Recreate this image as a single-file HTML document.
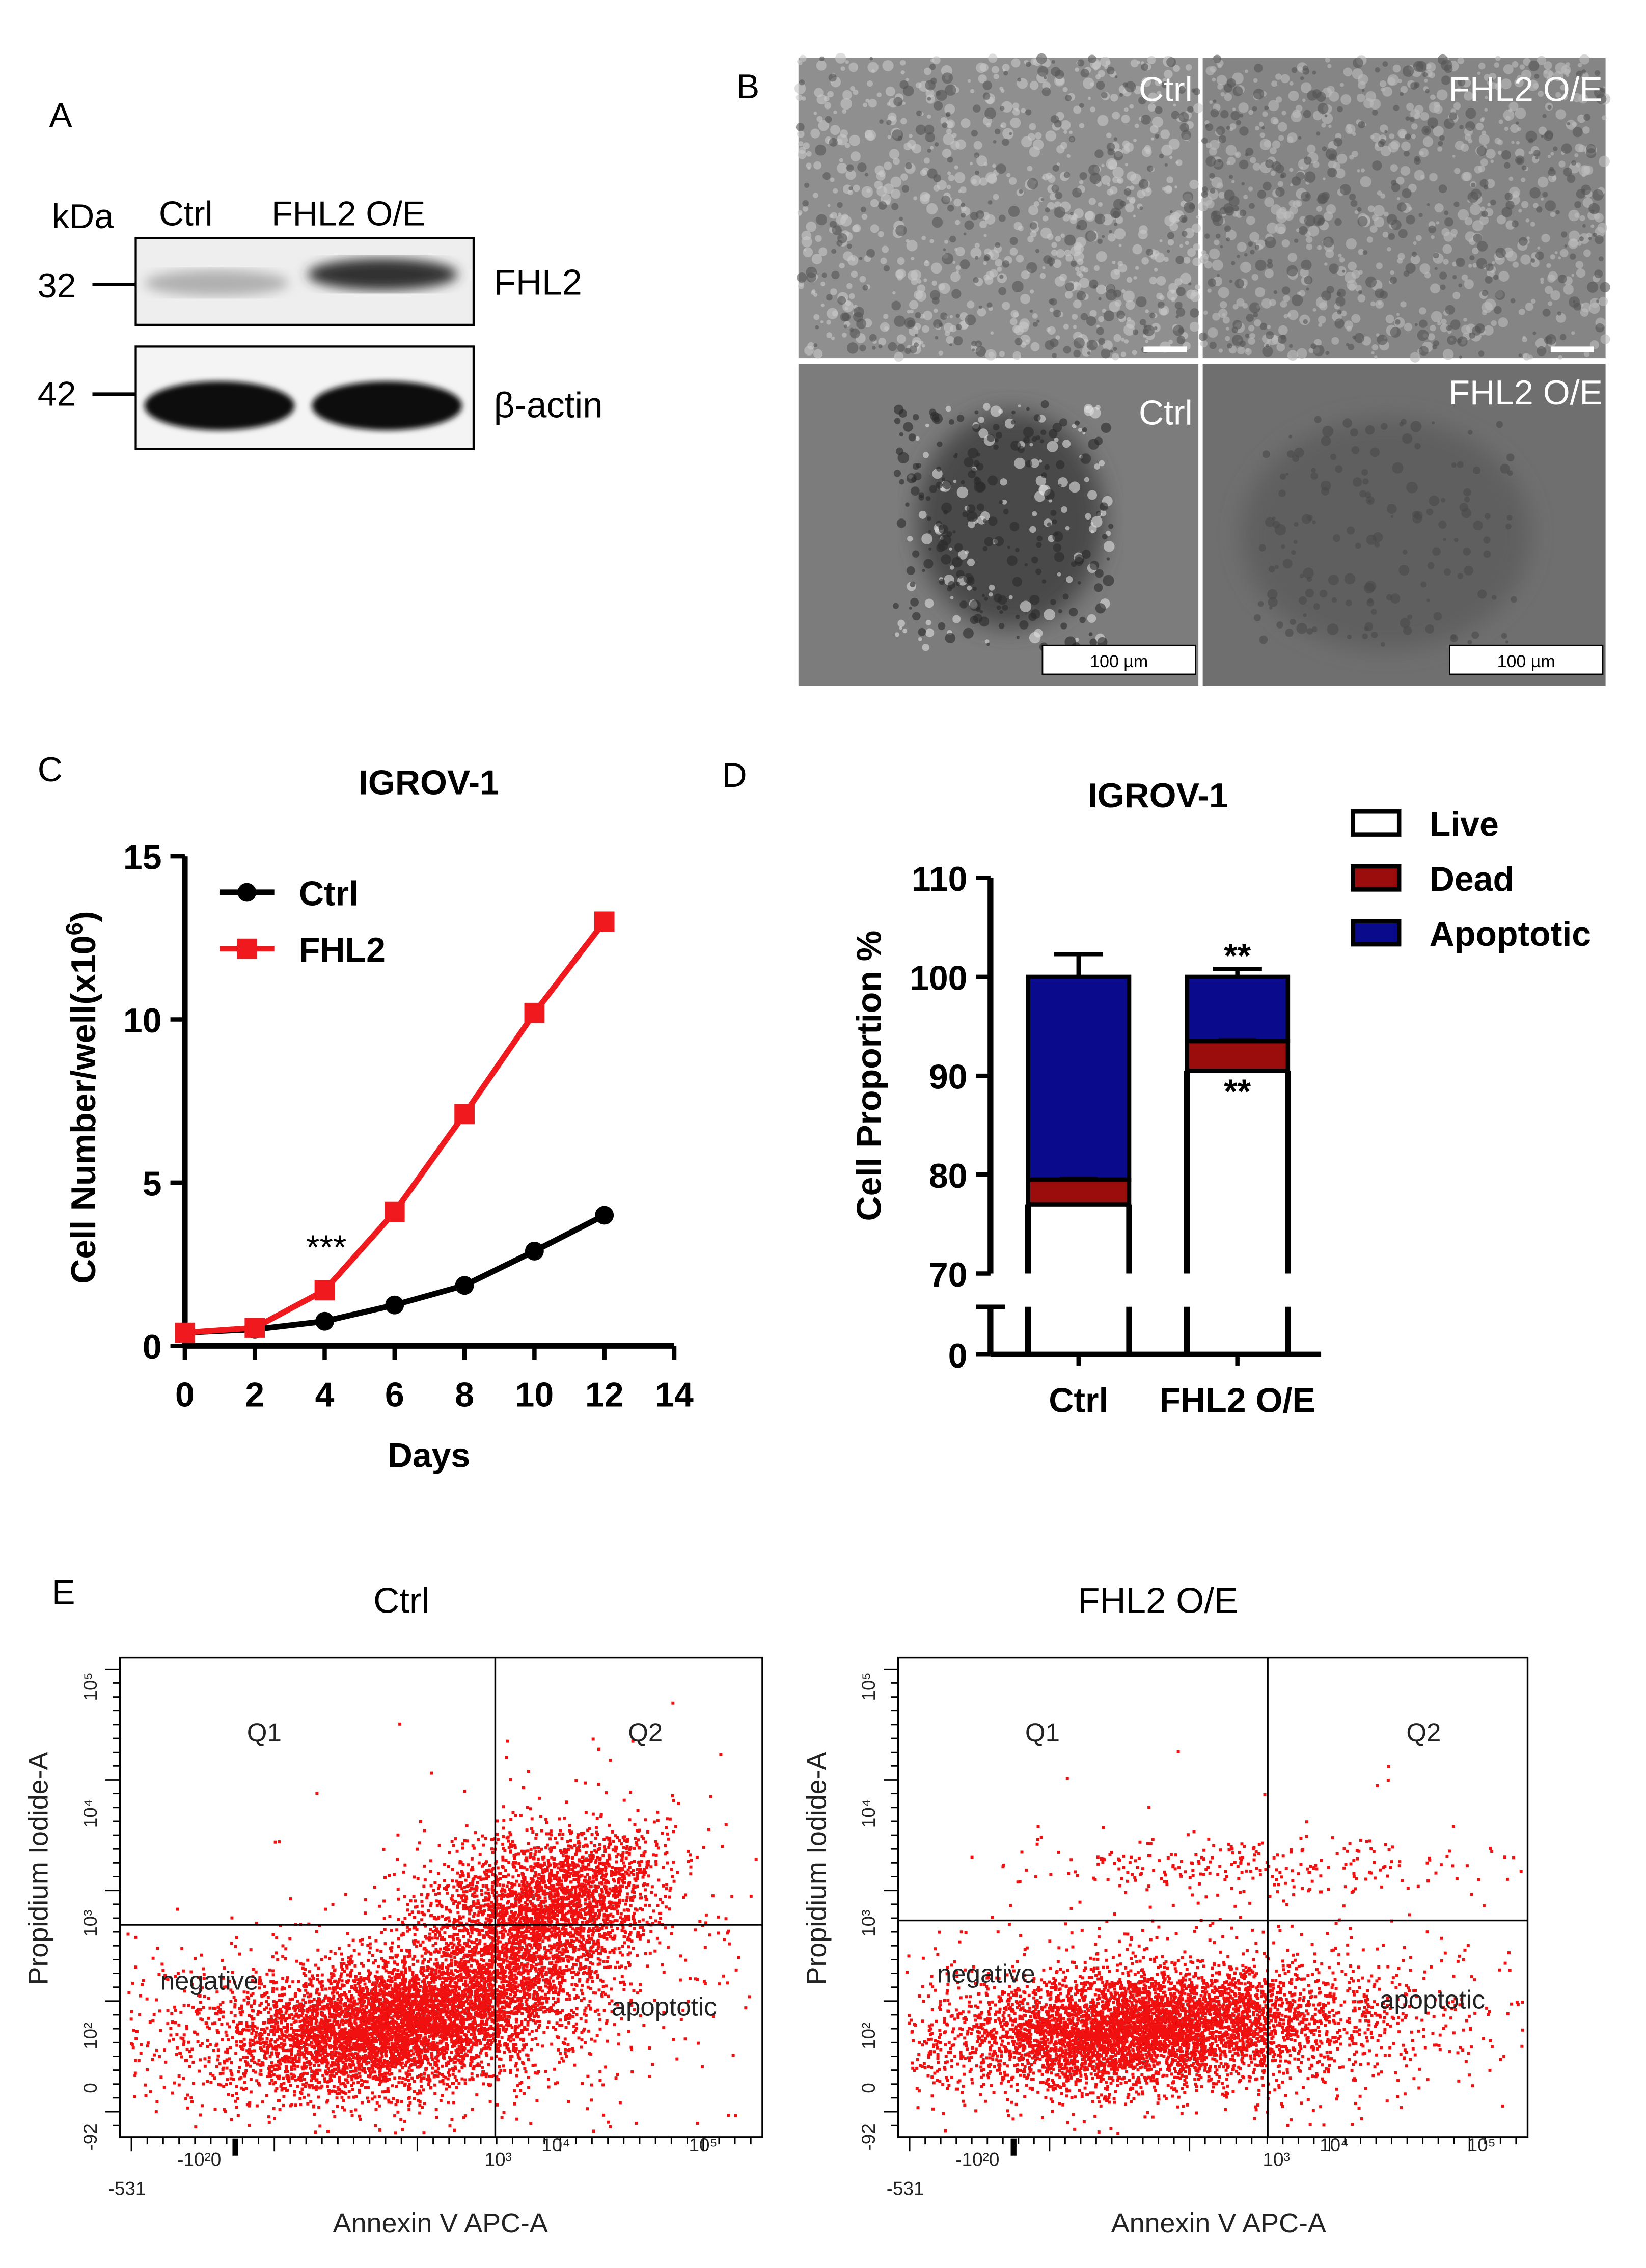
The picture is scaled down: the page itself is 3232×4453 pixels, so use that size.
<!DOCTYPE html>
<html><head><meta charset="utf-8"><style>
html,body{margin:0;padding:0;background:#fff}
svg{display:block;font-family:"Liberation Sans",Arial,sans-serif}
</style></head><body>
<svg id="fig" width="3232" height="4453" viewBox="0 0 1140 1570.7" xmlns="http://www.w3.org/2000/svg">
<rect width="1140" height="1570.7" fill="#fff"/>
<!-- Panel A -->
<g>
<text x="34" y="88" font-size="24">A</text>
<text x="36" y="158" font-size="24">kDa</text>
<text x="110" y="156" font-size="24">Ctrl</text>
<text x="188" y="156" font-size="24">FHL2 O/E</text>
<text x="26" y="206" font-size="24">32</text>
<line x1="64" y1="197" x2="94" y2="197" stroke="#000" stroke-width="2.5"/>
<text x="26" y="281" font-size="24">42</text>
<line x1="64" y1="273" x2="94" y2="273" stroke="#000" stroke-width="2.5"/>
<defs>
<filter id="blur3"><feGaussianBlur stdDeviation="4"/></filter>
<filter id="blur2"><feGaussianBlur stdDeviation="2"/></filter>
<filter id="blur8"><feGaussianBlur stdDeviation="8"/></filter>
</defs>
<rect x="94" y="165" width="234" height="60" fill="#eee" stroke="#000" stroke-width="1.5"/>
<ellipse cx="150" cy="196" rx="50" ry="9" fill="#b0b0b0" filter="url(#blur3)"/>
<ellipse cx="265" cy="190" rx="52" ry="11" fill="#333" filter="url(#blur3)"/>
<rect x="94" y="240" width="234" height="71" fill="#f4f4f4" stroke="#000" stroke-width="1.5"/>
<ellipse cx="152" cy="281" rx="52" ry="17" fill="#111" filter="url(#blur2)"/>
<ellipse cx="268" cy="281" rx="52" ry="17" fill="#111" filter="url(#blur2)"/>
<text x="342" y="204" font-size="25">FHL2</text>
<text x="342" y="289" font-size="25">β-actin</text>
</g>
<!-- Panel B -->
<g id="panelB">
<text x="510" y="68" font-size="24">B</text>
<rect x="553" y="40" width="277" height="208" fill="#8f8f8f"/>
<rect x="833" y="40" width="279" height="208" fill="#858585"/>
<rect x="553" y="252" width="277" height="223" fill="#7c7c7c"/>
<rect x="833" y="252" width="279" height="223" fill="#6f6f6f"/>
<ellipse cx="700" cy="360" rx="65" ry="75" fill="#4a4a4a" filter="url(#blur8)"/>
<ellipse cx="960" cy="370" rx="100" ry="80" fill="#5e5e5e" filter="url(#blur8)"/>
<g id="bTex"></g>
<text x="826" y="70" font-size="24" fill="#fff" text-anchor="end">Ctrl</text>
<text x="1110" y="70" font-size="24" fill="#fff" text-anchor="end">FHL2 O/E</text>
<text x="826" y="294" font-size="24" fill="#fff" text-anchor="end">Ctrl</text>
<text x="1110" y="280" font-size="24" fill="#fff" text-anchor="end">FHL2 O/E</text>
<rect x="792" y="240" width="30" height="4" fill="#fff"/>
<rect x="1074" y="240" width="30" height="4" fill="#fff"/>
<rect x="722" y="447" width="106" height="20" fill="#fff" stroke="#000"/>
<text x="775" y="462" font-size="12" text-anchor="middle">100 µm</text>
<rect x="1004" y="447" width="106" height="20" fill="#fff" stroke="#000"/>
<text x="1057" y="462" font-size="12" text-anchor="middle">100 µm</text>
</g>
<!-- Panel C -->
<g id="panelC">
<text x="26" y="541" font-size="24">C</text>
<text x="297" y="550" font-size="24" font-weight="bold" text-anchor="middle">IGROV-1</text>
<text x="297" y="1016" font-size="24" font-weight="bold" text-anchor="middle">Days</text>
<text transform="translate(66,760) rotate(-90)" font-size="24" font-weight="bold" text-anchor="middle">Cell Number/well(x10<tspan dy="-9" font-size="16">6</tspan><tspan dy="9">)</tspan></text>
</g>
<!-- Panel D -->
<g id="panelD">
<text x="500" y="545" font-size="24">D</text>
<text x="802" y="559" font-size="24" font-weight="bold" text-anchor="middle">IGROV-1</text>
<text transform="translate(610,745) rotate(-90)" font-size="24" font-weight="bold" text-anchor="middle">Cell Proportion %</text>
</g>
<!-- Panel E -->
<g id="panelE">
<text x="36" y="1111" font-size="24">E</text>
<text x="278" y="1117" font-size="25" text-anchor="middle">Ctrl</text>
<text x="802" y="1117" font-size="25" text-anchor="middle">FHL2 O/E</text>
</g>
</svg>
<script>
const NS='http://www.w3.org/2000/svg';
function mk(parent,tag,attrs,txt){const e=document.createElementNS(NS,tag);for(const k in attrs)e.setAttribute(k,attrs[k]);if(txt!==undefined)e.textContent=txt;parent.appendChild(e);return e;}
let seed=12345;function rnd(){seed=(seed*1103515245+12345)%2147483648;return seed/2147483648;}
function gauss(){let u=rnd()||1e-6,v=rnd();return Math.sqrt(-2*Math.log(u))*Math.cos(2*Math.PI*v);}

// ---- Panel B texture
const bTex=document.getElementById('bTex');
const texRegions=[[553,40,277,208,'#c8c8c8',700],[553,40,277,208,'#555',300],[833,40,279,208,'#bdbdbd',650],[833,40,279,208,'#555',350],[620,280,150,170,'#e0e0e0',120],[620,280,150,170,'#2a2a2a',200],[870,290,180,160,'#4a4a4a',150]];
texRegions.forEach(r=>{for(let i=0;i<r[5];i++){const x=r[0]+rnd()*r[2],y=r[1]+rnd()*r[3];mk(bTex,'circle',{cx:x,cy:y,r:1+rnd()*3,fill:r[4],opacity:0.6});}});

// ---- Panel C
const daysC=[0,2,4,6,8,10,12];
const ctrlC=[0.4,0.5,0.75,1.25,1.85,2.9,4.0];
const fhl2C=[0.4,0.55,1.7,4.1,7.1,10.2,13.0];
const xTicksC=[0,2,4,6,8,10,12,14];
const yTicksC=[0,5,10,15];
const gC=document.getElementById('panelC');
const xC=d=>128+d*(467-128)/14, yC=v=>932-v*(932-593)/15;
mk(gC,'line',{x1:128,y1:593,x2:128,y2:932,stroke:'#000','stroke-width':4});
mk(gC,'line',{x1:128,y1:932,x2:467,y2:932,stroke:'#000','stroke-width':4});
xTicksC.forEach(t=>{mk(gC,'line',{x1:xC(t),y1:932,x2:xC(t),y2:942,stroke:'#000','stroke-width':3});
 const l=mk(gC,'text',{x:xC(t),y:974,'font-size':24,'font-weight':'bold','text-anchor':'middle'},t);
 
 });
yTicksC.forEach(t=>{mk(gC,'line',{x1:118,y1:yC(t),x2:128,y2:yC(t),stroke:'#000','stroke-width':3});
 const l=mk(gC,'text',{x:112,y:yC(t)+9,'font-size':24,'font-weight':'bold','text-anchor':'end'},t);
 
 });
function series(vals,color,shape,name){
 const p=mk(gC,'polyline',{points:daysC.map((d,i)=>xC(d)+','+yC(vals[i])).join(' '),fill:'none',stroke:color,'stroke-width':4});
 
 
 daysC.forEach((d,i)=>{let m;if(shape==='c')m=mk(gC,'circle',{cx:xC(d),cy:yC(vals[i]),r:6.5,fill:color});
  else m=mk(gC,'rect',{x:xC(d)-7,y:yC(vals[i])-7,width:14,height:14,fill:color});
  
  });
}
series(ctrlC,'#000','c','ctrl');
series(fhl2C,'#f0191e','s','fhl2');
mk(gC,'text',{x:226,y:872,'font-size':24,'text-anchor':'middle'},'***');
mk(gC,'line',{x1:152,y1:618,x2:190,y2:618,stroke:'#000','stroke-width':4});
mk(gC,'circle',{cx:171,cy:618,r:6.5,fill:'#000'});
let lg=mk(gC,'text',{x:207,y:627,'font-size':24,'font-weight':'bold'},'Ctrl');


mk(gC,'line',{x1:152,y1:657,x2:190,y2:657,stroke:'#f0191e','stroke-width':4});
mk(gC,'rect',{x:164,y:650,width:14,height:14,fill:'#f0191e'});
lg=mk(gC,'text',{x:207,y:666,'font-size':24,'font-weight':'bold'},'FHL2');



// ---- Panel D
const groupsD=['Ctrl','FHL2 O/E'];
const liveD=[77.0,90.5];
const deadD=[2.5,3.0];
const apopD=[20.5,6.5];
const errTopD=[2.3,0.8];
const yTicksD=[70,80,90,100,110];
const gD=document.getElementById('panelD');
const yD=v=>882-(v-70)*(882-608)/40;
const bx=[712,822],bw=70;
mk(gD,'line',{x1:686,y1:608,x2:686,y2:882,stroke:'#000','stroke-width':4});
mk(gD,'line',{x1:686,y1:905,x2:686,y2:938,stroke:'#000','stroke-width':4});
mk(gD,'line',{x1:686,y1:938,x2:915,y2:938,stroke:'#000','stroke-width':4});
mk(gD,'line',{x1:676,y1:905,x2:696,y2:905,stroke:'#000','stroke-width':3});
yTicksD.forEach(t=>{mk(gD,'line',{x1:676,y1:yD(t),x2:686,y2:yD(t),stroke:'#000','stroke-width':3});
 const l=mk(gD,'text',{x:670,y:yD(t)+9,'font-size':24,'font-weight':'bold','text-anchor':'end'},t);
 
 });
mk(gD,'line',{x1:676,y1:938,x2:686,y2:938,stroke:'#000','stroke-width':3});
mk(gD,'text',{x:670,y:947,'font-size':24,'font-weight':'bold','text-anchor':'end'},'0');
groupsD.forEach((g,i)=>{
 const x=bx[i],cx=x+bw/2;
 const top=liveD[i]+deadD[i]+apopD[i];
 let r=mk(gD,'rect',{x:x,y:yD(top),width:bw,height:yD(liveD[i]+deadD[i])-yD(top),fill:'#0a0a8c',stroke:'#000','stroke-width':3});
 
 
 r=mk(gD,'rect',{x:x,y:yD(liveD[i]+deadD[i]),width:bw,height:yD(liveD[i])-yD(liveD[i]+deadD[i]),fill:'#9b0c0c',stroke:'#000','stroke-width':3});
 
 
 mk(gD,'line',{x1:x,y1:yD(liveD[i]),x2:x,y2:882,stroke:'#000','stroke-width':4});
 mk(gD,'line',{x1:x+bw,y1:yD(liveD[i]),x2:x+bw,y2:882,stroke:'#000','stroke-width':4});
 mk(gD,'line',{x1:x,y1:905,x2:x,y2:938,stroke:'#000','stroke-width':4});
 mk(gD,'line',{x1:x+bw,y1:905,x2:x+bw,y2:938,stroke:'#000','stroke-width':4});
 mk(gD,'line',{x1:cx,y1:yD(top+errTopD[i]),x2:cx,y2:yD(top),stroke:'#000','stroke-width':3});
 mk(gD,'line',{x1:cx-17,y1:yD(top+errTopD[i]),x2:cx+17,y2:yD(top+errTopD[i]),stroke:'#000','stroke-width':3});
 mk(gD,'line',{x1:cx-13,y1:yD(liveD[i]+deadD[i])-1,x2:cx+13,y2:yD(liveD[i]+deadD[i])-1,stroke:'#000','stroke-width':2});
 mk(gD,'line',{x1:cx,y1:938,x2:cx,y2:946,stroke:'#000','stroke-width':3});
 const l=mk(gD,'text',{x:cx,y:978,'font-size':24,'font-weight':'bold','text-anchor':'middle'},g);
 
 
});
mk(gD,'text',{x:857,y:670,'font-size':24,'font-weight':'bold','text-anchor':'middle'},'**');
mk(gD,'text',{x:857,y:764,'font-size':24,'font-weight':'bold','text-anchor':'middle'},'**');
[['Live','#fff',570],['Dead','#9b0c0c',608],['Apoptotic','#0a0a8c',646]].forEach(e=>{
 mk(gD,'rect',{x:937,y:e[2]-8,width:32,height:16,fill:e[1],stroke:'#000','stroke-width':3});
 const t=mk(gD,'text',{x:990,y:e[2]+9,'font-size':24,'font-weight':'bold'},e[0]);
 
 
});

// ---- Panel E flow plots (cluster descriptions: center x,y in plot-fraction, sx, sy, rotation, count)
const ctrlClusters=[[0.43,0.76,0.12,0.06,-0.3,4200],[0.62,0.56,0.09,0.08,-0.8,2200],[0.35,0.77,0.20,0.09,0,1400],[0.72,0.48,0.07,0.06,-0.7,900],[0.7,0.55,0.18,0.18,-0.7,300]];
const fhl2Clusters=[[0.38,0.77,0.14,0.055,-0.12,4200],[0.45,0.77,0.26,0.085,0,1500],[0.55,0.43,0.17,0.025,0,220],[0.6,0.6,0.25,0.15,0,180]];
const gE=document.getElementById('panelE');
function flow(x0,y0,w,h,qx,qy,clusters,name,lab){
 const g=mk(gE,'g',{});
 
 
 mk(g,'rect',{x:x0,y:y0,width:w,height:h,fill:'#fff',stroke:'#000','stroke-width':1.2});
 clusters.forEach(c=>{const cs=Math.cos(c[4]),sn=Math.sin(c[4]);
  for(let i=0;i<c[5];i++){const a=gauss()*c[2],b=gauss()*c[3];
   const fx=c[0]+a*cs-b*sn,fy=c[1]+a*sn+b*cs;
   if(fx<0.01||fx>0.99||fy<0.03||fy>0.99)continue;
   mk(g,'rect',{x:x0+fx*w,y:y0+fy*h,width:2.1,height:2.1,fill:'#f01010'});}});
 mk(g,'line',{x1:qx,y1:y0,x2:qx,y2:y0+h,stroke:'#000','stroke-width':1.2});
 mk(g,'line',{x1:x0,y1:qy,x2:x0+w,y2:qy,stroke:'#000','stroke-width':1.2});
 for(let i=0;i<40;i++){const x=x0+8+i*(w-16)/39;mk(g,'line',{x1:x,y1:y0+h,x2:x,y2:y0+h+(i%9==0?10:5),stroke:'#000','stroke-width':1});}
 for(let i=0;i<34;i++){const y=y0+8+i*(h-16)/33;mk(g,'line',{x1:x0,y1:y,x2:x0-(i%8==0?10:5),y2:y,stroke:'#000','stroke-width':1});}
 mk(g,'rect',{x:x0+78,y:y0+h+1,width:4,height:12,fill:'#000'});
 const t=(x,y,s,txt,anc)=>mk(g,'text',{x:x,y:y,'font-size':s,'text-anchor':anc||'start',fill:'#222'},txt);
 t(x0+100,y0+58,18,'Q1','middle');t(x0+364,y0+58,18,'Q2','middle');
 t(lab[0],lab[1],18,'negative','middle');t(lab[2],lab[3],18,'apoptotic','middle');
 t(x0+222,y0+h+66,19,'Annexin V APC-A','middle');
 mk(g,'text',{transform:`translate(${x0-50},${y0+h/2-20}) rotate(-90)`,'font-size':19,'text-anchor':'middle',fill:'#222'},'Propidium Iodide-A');
 t(x0+5,y0+h+40,13,'-531','middle');t(x0+55,y0+h+20,13,'-10²0','middle');
 t(x0+262,y0+h+20,13,'10³','middle');t(x0+302,y0+h+10,13,'10⁴','middle');t(x0+404,y0+h+10,13,'10⁵','middle');
 [[y0+20,'10⁵'],[y0+108,'10⁴'],[y0+184,'10³'],[y0+262,'10²'],[y0+298,'0'],[y0+332,'-92']].forEach(p=>{
  mk(g,'text',{transform:`translate(${x0-16},${p[0]}) rotate(-90)`,'font-size':13,'text-anchor':'middle',fill:'#222'},p[1]);});
}
flow(83,1148,445,332,343,1333,ctrlClusters,'flow-plot-ctrl',[145,1378,460,1396]);
flow(622,1148,436,332,878,1330,fhl2Clusters,'flow-plot-fhl2',[683,1373,992,1391]);
</script>
</body></html>
